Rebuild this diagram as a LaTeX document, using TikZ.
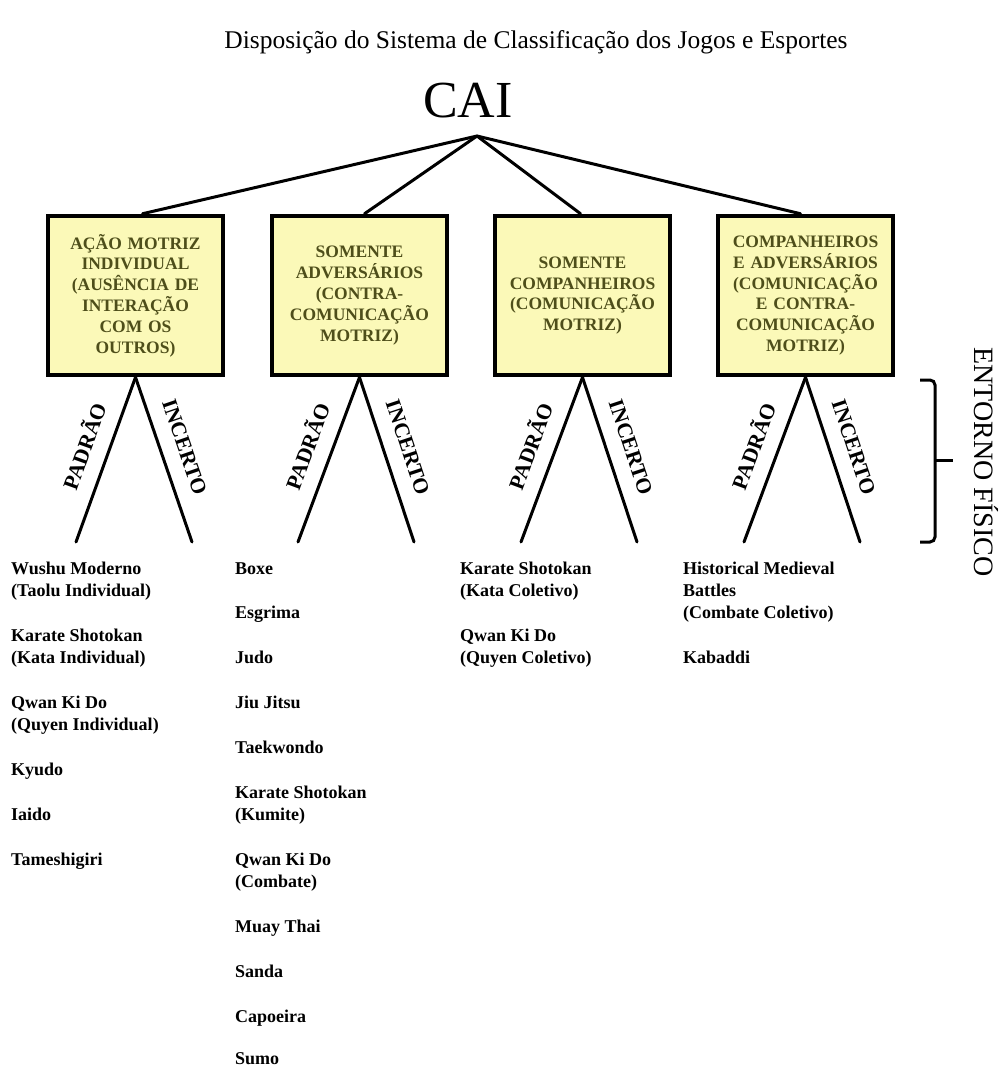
\documentclass[tikz,border=0pt]{standalone}
\usepackage{fontspec}
\setmainfont{Liberation Serif}
\definecolor{boxfill}{RGB}{251,249,184}
\definecolor{boxtext}{RGB}{78,78,26}
\begin{document}
\begin{tikzpicture}[x=1pt,y=-1pt,
  catbox/.style={draw=black, line width=4.5pt, fill=boxfill, minimum width=175pt,
    minimum height=159pt, text width=172pt, align=center, inner sep=0pt,
    font=\fontsize{17.5}{20.8}\selectfont\bfseries, text=boxtext},
  conn/.style={line width=3pt, line cap=round},
  branchlbl/.style={sloped, above=15pt, inner sep=0pt, pos=0.47,
    font=\fontsize{21.5}{24}\selectfont\bfseries},
  item/.style={anchor=base west, inner sep=0pt, font=\fontsize{18}{22}\selectfont\bfseries}
]
\useasboundingbox (0,0) rectangle (1000,1068);
\fill[white] (0,0) rectangle (1000,1068);

% title and root
\node[font=\fontsize{25.5}{28}\selectfont, anchor=base] (title) at (536,48)
  {Disposição do Sistema de Classificação dos Jogos e Esportes};
\node[font=\fontsize{52}{56}\selectfont, anchor=base, inner sep=0pt] (cai) at (468,117) {CAI};
\coordinate (top) at (477,136);

% category boxes
\node[catbox] (b1) at (135.5,295.5) {AÇÃO MOTRIZ\\INDIVIDUAL\\(AUSÊNCIA DE\\INTERAÇÃO\\COM OS\\OUTROS)};
\node[catbox] (b2) at (359.5,295.5) {SOMENTE\\ADVERSÁRIOS\\(CONTRA-\\COMUNICAÇÃO\\MOTRIZ)};
\node[catbox] (b3) at (582.5,295.5) {SOMENTE\\COMPANHEIROS\\(COMUNICAÇÃO\\MOTRIZ)};
\node[catbox] (b4) at (805.5,295.5) {COMPANHEIROS\\E ADVERSÁRIOS\\(COMUNICAÇÃO\\E CONTRA-\\COMUNICAÇÃO\\MOTRIZ)};

\draw[conn] (top) -- ([xshift=7pt]b1.north);
\draw[conn] (top) -- ([xshift=5pt]b2.north);
\draw[conn] (top) -- ([xshift=-2pt]b3.north);
\draw[conn] (top) -- ([xshift=-5pt]b4.north);

% branch ends
\foreach \b/\x in {1/137,2/359,3/582,4/805}{
  \coordinate (p\b) at (\x-61,542);
  \coordinate (i\b) at (\x+55,542);
  \draw[conn] (b\b.south) -- node[branchlbl] (lp\b) {PADRÃO} (p\b);
  \draw[conn] (b\b.south) -- node[branchlbl] (li\b) {INCERTO} (i\b);
}

% environment bracket
\draw[line width=3pt, rounded corners=5pt] (920,380) -- (935,380) -- (935,542) -- (920,542);
\draw[line width=3pt] (935,460) -- (953,460);
\node[font=\fontsize{28}{30}\selectfont, rotate=-90, inner sep=0pt] (env) at (986,462) {ENTORNO FÍSICO};

% column 1
\node[item] (c1a) at (11,574) {Wushu Moderno};
\node[item] (c1b) at (11,596.4) {(Taolu Individual)};
\node[item] (c1c) at (11,641.2) {Karate Shotokan};
\node[item] (c1d) at (11,663.6) {(Kata Individual)};
\node[item] (c1e) at (11,708.4) {Qwan Ki Do};
\node[item] (c1f) at (11,730.8) {(Quyen Individual)};
\node[item] (c1g) at (11,775.6) {Kyudo};
\node[item] (c1h) at (11,820.4) {Iaido};
\node[item] (c1i) at (11,865.2) {Tameshigiri};

% column 2
\node[item] (c2a) at (235,574) {Boxe};
\node[item] (c2b) at (235,618.8) {Esgrima};
\node[item] (c2c) at (235,663.6) {Judo};
\node[item] (c2d) at (235,708.4) {Jiu Jitsu};
\node[item] (c2e) at (235,753.2) {Taekwondo};
\node[item] (c2f) at (235,798) {Karate Shotokan};
\node[item] (c2g) at (235,820.4) {(Kumite)};
\node[item] (c2h) at (235,865.2) {Qwan Ki Do};
\node[item] (c2i) at (235,887.6) {(Combate)};
\node[item] (c2j) at (235,932.4) {Muay Thai};
\node[item] (c2k) at (235,977.2) {Sanda};
\node[item] (c2l) at (235,1022) {Capoeira};
\node[item] (c2m) at (235,1064) {Sumo};

% column 3
\node[item] (c3a) at (460,574) {Karate Shotokan};
\node[item] (c3b) at (460,596.4) {(Kata Coletivo)};
\node[item] (c3c) at (460,641.2) {Qwan Ki Do};
\node[item] (c3d) at (460,663.6) {(Quyen Coletivo)};

% column 4
\node[item] (c4a) at (683,574) {Historical Medieval};
\node[item] (c4b) at (683,596.4) {Battles};
\node[item] (c4c) at (683,618.8) {(Combate Coletivo)};
\node[item] (c4d) at (683,663.6) {Kabaddi};
\end{tikzpicture}
\end{document}
